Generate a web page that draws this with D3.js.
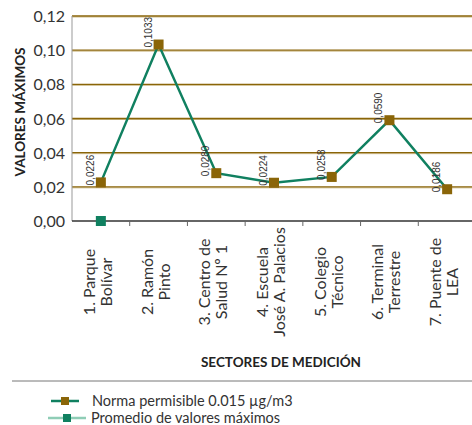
<!DOCTYPE html>
<html lang="es">
<head>
<meta charset="UTF-8">
<title>Valores máximos</title>
<script src="https://d3js.org/d3.v7.min.js"></script>
<style>
    * { margin: 0; padding: 0; }
    body { background: white; font-family: Lato, sans-serif; }
    svg { display: block; }
</style>
</head>
<body>
<script>
// datos
const sectores = [
    ["1. Parque", "Bolívar"],
    ["2. Ramón", "Pinto"],
    ["3. Centro de", "Salud Nº 1"],
    ["4. Escuela", "José A. Palacios"],
    ["5. Colegio", "Técnico"],
    ["6. Terminal", "Terrestre"],
    ["7. Puente de", "LEA"]
];
const valoresMaximos = [0.0226, 0.1033, 0.0280, 0.0224, 0.0258, 0.0590, 0.0186];
const promedio = [0, null, null, null, null, null, null];
const yTicks = [0, 0.02, 0.04, 0.06, 0.08, 0.10, 0.12];
const etiquetas = ["Norma permisible 0.015 µg/m3", "Promedio de valores máximos"];

const W = 472, H = 425;
const brown = "#8a6508", green = "#108060", lightGreen = "#8fcdb6";

const svg = d3.select("body").append("svg")
    .attr("width", W).attr("height", H);

const x = d3.scaleBand().domain(d3.range(sectores.length)).range([72, 476]);
const y = d3.scaleLinear().domain([0, 0.12]).range([221, 16]);

// lineas de grilla
yTicks.filter(t => t > 0).forEach(t => {
    svg.append("line").attr("x1", 72).attr("x2", W)
        .attr("y1", y(t) + 1).attr("y2", y(t) + 1)
        .attr("stroke", "#cdbb8a").attr("stroke-width", 1);
    svg.append("line").attr("x1", 72).attr("x2", W)
        .attr("y1", y(t)).attr("y2", y(t))
        .attr("stroke", brown).attr("stroke-width", 1.3);
});

// eje y
svg.append("line").attr("x1", 72).attr("x2", 72)
    .attr("y1", y(0.12)).attr("y2", y(0))
    .attr("stroke", "#999").attr("stroke-width", 1);

svg.selectAll(".ytick").data(yTicks).enter().append("text")
    .attr("x", 65).attr("y", d => y(d) + 6)
    .attr("text-anchor", "end")
    .attr("font-size", 16).attr("fill", "#333")
    .text(d => d3.format(".2f")(d).replace(".", ","));

svg.append("text")
    .attr("transform", "translate(25,112) rotate(-90)")
    .attr("text-anchor", "middle")
    .attr("font-size", 13.5).attr("font-weight", "bold").attr("fill", "#222")
    .text("VALORES MÁXIMOS");

// eje x
svg.append("line").attr("x1", 72).attr("x2", W)
    .attr("y1", y(0)).attr("y2", y(0))
    .attr("stroke", "#333").attr("stroke-width", 1.5);

d3.range(1, sectores.length + 1).forEach(i => {
    const tx = x.range()[0] + i * x.step();
    svg.append("line").attr("x1", tx).attr("x2", tx)
        .attr("y1", y(0)).attr("y2", y(0) + 5)
        .attr("stroke", "#666");
});

sectores.forEach((s, i) => {
    const cx = x(i) + x.bandwidth() / 2;
    const t = svg.append("text")
        .attr("transform", `translate(${cx - 6},282) rotate(-90)`)
        .attr("text-anchor", "middle")
        .attr("font-size", 16).attr("fill", "#333");
    s.forEach((line, k) => {
        t.append("tspan").attr("x", 0).attr("dy", k === 0 ? 0 : 17).text(line);
    });
});

svg.append("text")
    .attr("x", 281).attr("y", 367)
    .attr("text-anchor", "middle")
    .attr("font-size", 13.5).attr("font-weight", "bold").attr("fill", "#222")
    .text("SECTORES DE MEDICIÓN");

// serie principal
const px = i => x(i) + x.bandwidth() / 2;
const line = d3.line().x((d, i) => px(i)).y(d => y(d));

svg.append("path").datum(valoresMaximos)
    .attr("d", line)
    .attr("fill", "none").attr("stroke", green).attr("stroke-width", 2.5);

svg.selectAll(".m1").data(valoresMaximos).enter().append("rect")
    .attr("x", (d, i) => px(i) - 5).attr("y", d => y(d) - 5)
    .attr("width", 10).attr("height", 10).attr("fill", brown);

svg.selectAll(".lbl").data(valoresMaximos).enter().append("text")
    .attr("transform", (d, i) => `translate(${px(i) - 7},${y(d) + 3}) rotate(-90)`)
    .attr("font-family", "Liberation Sans, Arial, sans-serif")
    .attr("font-size", 10).attr("fill", "#333")
    .text(d => d3.format(".4f")(d).replace(".", ","));

// serie promedio
promedio.forEach((d, i) => {
    if (d === null) return;
    svg.append("rect")
        .attr("x", px(i) - 5).attr("y", y(d) - 5)
        .attr("width", 10).attr("height", 10).attr("fill", green);
});

// separador y leyenda
svg.append("line").attr("x1", 12).attr("x2", W)
    .attr("y1", 381).attr("y2", 381)
    .attr("stroke", "#777").attr("stroke-width", 1);

const leg = [
    { y: 401, x1: 51, x2: 79, stroke: green, fill: brown, tx: 92 },
    { y: 418, x1: 48, x2: 86, stroke: lightGreen, fill: green, tx: 91 }
];
leg.forEach((l, i) => {
    svg.append("line").attr("x1", l.x1).attr("x2", l.x2)
        .attr("y1", l.y).attr("y2", l.y)
        .attr("stroke", l.stroke).attr("stroke-width", 2.5);
    svg.append("rect").attr("x", (l.x1 + l.x2) / 2 - 4).attr("y", l.y - 4)
        .attr("width", 8).attr("height", 8).attr("fill", l.fill);
    svg.append("text").attr("x", l.tx).attr("y", l.y + 5)
        .attr("font-size", 14.5).attr("fill", "#333")
        .text(etiquetas[i]);
});
</script>
</body>
</html>
